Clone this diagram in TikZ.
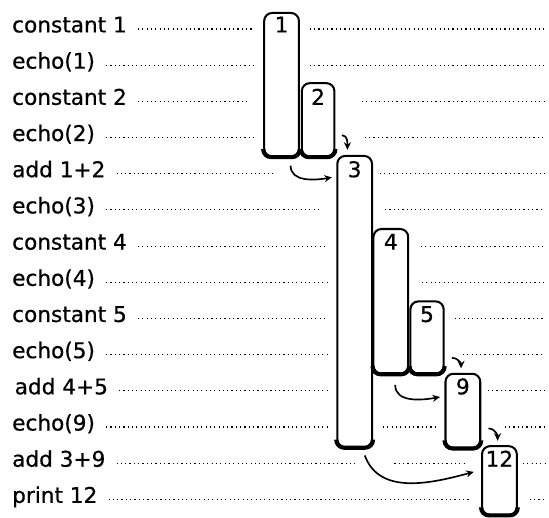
\documentclass[tikz,border=0pt]{standalone}
\usepackage{fontspec}
\setmainfont{DejaVu Sans}[FakeBold=0.6]
\usepackage{tikz}
\usetikzlibrary{arrows.meta,positioning}

\newcommand{\barbase}[1]{\draw[base] ([yshift=2.2mm]#1.south west) |- ([yshift=0.4pt]#1.south) -| ([yshift=2.2mm]#1.south east);}

\begin{document}
\begin{tikzpicture}[every node/.style={font=\fontsize{17}{20}\selectfont},
  lbl/.style={anchor=mid west,inner sep=0pt},
  dots/.style={line width=0.9pt,dash pattern=on 0.9pt off 2.5pt},
  bar/.style={draw,line width=1.6pt,rounded corners=0.22cm,minimum width=0.96cm,inner sep=0pt,anchor=north},
  base/.style={line width=3.2pt,rounded corners=0.22cm},
  hop/.style={-{Stealth[length=6pt,width=5.5pt]},line width=1.3pt}]
  \useasboundingbox (0,0.8) rectangle (15.17,-13.51);

  % the program, one row per step
  \node[lbl] (l0) at (0.33,0) {constant 1};
  \node[lbl] (l1) at (0.33,-1) {echo(1)};
  \node[lbl] (l2) at (0.33,-2) {constant 2};
  \node[lbl] (l3) at (0.33,-3) {echo(2)};
  \node[lbl] (l4) at (0.33,-4) {add 1+2};
  \node[lbl] (l5) at (0.33,-5) {echo(3)};
  \node[lbl] (l6) at (0.33,-6) {constant 4};
  \node[lbl] (l7) at (0.33,-7) {echo(4)};
  \node[lbl] (l8) at (0.33,-8) {constant 5};
  \node[lbl] (l9) at (0.33,-9) {echo(5)};
  \node[lbl] (l10) at (0.4,-10) {add 4+5};
  \node[lbl] (l11) at (0.33,-11) {echo(9)};
  \node[lbl] (l12) at (0.33,-12) {add 3+9};
  \node[lbl] (l13) at (0.33,-13) {print 12};

  \draw[dots] ([xshift=3mm]l0.mid east) -- (6.95,0) (8.56,0) -- (15.05,0);
  \draw[dots] ([xshift=3mm]l1.mid east) -- (7.1,-1) (8.56,-1) -- (15.05,-1);
  \draw[dots] ([xshift=3mm]l2.mid east) -- (6.9,-2) (10.0,-2) -- (15.05,-2);
  \draw[dots] ([xshift=3mm]l3.mid east) -- (7.0,-3) (10.08,-3) -- (15.05,-3);
  \draw[dots] ([xshift=3mm]l4.mid east) -- (7.6,-4) (10.5,-4) -- (15.05,-4);
  \draw[dots] ([xshift=3mm]l5.mid east) -- (8.9,-5) (10.64,-5) -- (15.05,-5);
  \draw[dots] ([xshift=3mm]l6.mid east) -- (9.05,-6) (11.63,-6) -- (15.05,-6);
  \draw[dots] ([xshift=3mm]l7.mid east) -- (9.05,-7) (11.66,-7) -- (15.05,-7);
  \draw[dots] ([xshift=3mm]l8.mid east) -- (9.05,-8) (12.57,-8) -- (15.05,-8);
  \draw[dots] ([xshift=3mm]l9.mid east) -- (9.03,-9) (12.79,-9) -- (15.05,-9);
  \draw[dots] ([xshift=3mm]l10.mid east) -- (9.03,-10) (13.48,-10) -- (15.05,-10);
  \draw[dots] ([xshift=3mm]l11.mid east) -- (9.05,-11) (10.58,-11) -- (12.07,-11) (13.95,-11) -- (15.05,-11);
  \draw[dots] ([xshift=3mm]l12.mid east) -- (9.8,-12) (10.9,-12) -- (12.93,-12) (14.45,-12) -- (15.05,-12);
  \draw[dots] ([xshift=3mm]l13.mid east) -- (12.98,-13) (14.64,-13) -- (15.05,-13);

  % the values on the stack
  \node[bar,minimum height=3.97cm] (b1) at (7.78,0.47) {};
  \node[bar,minimum height=2.03cm,minimum width=0.9cm] (b2) at (8.79,-1.47) {};
  \node[bar,minimum height=8.05cm] (b3) at (9.8,-3.48) {};
  \node[bar,minimum height=4cm] (b4) at (10.8,-5.5) {};
  \node[bar,minimum height=2cm,minimum width=0.92cm] (b5) at (11.8,-7.5) {};
  \node[bar,minimum height=2.05cm] (b9) at (12.79,-9.5) {};
  \node[bar,minimum height=1.9cm] (b12) at (13.8,-11.5) {};
  \barbase{b1} \barbase{b2} \barbase{b3} \barbase{b4}
  \barbase{b5} \barbase{b9} \barbase{b12}

  \node[anchor=mid] (n1) at (b1.north |- l0.mid) {1};
  \node[anchor=mid] (n2) at (b2.north |- l2.mid) {2};
  \node[anchor=mid] (n3) at (b3.north |- l4.mid) {3};
  \node[anchor=mid] (n4) at (b4.north |- l6.mid) {4};
  \node[anchor=mid] (n5) at (b5.north |- l8.mid) {5};
  \node[anchor=mid] (n9) at (b9.north |- l10.mid) {9};
  \node[anchor=mid] (n12) at (b12.north |- l12.mid) {12};

  % moves between values
  \draw[hop] ([shift={(0.18,0.62)}]b2.south east) to[out=0,in=90] ([shift={(-0.2,0.14)}]b3.north);
  \draw[hop] ([shift={(0.2,0.47)}]b5.south east) to[out=0,in=90] ([shift={(-0.05,0.12)}]b9.north);
  \draw[hop] ([shift={(0.2,0.57)}]b9.south east) to[out=0,in=90] ([shift={(-0.05,0.12)}]b12.north);
  \draw[hop] ([shift={(0.25,-0.22)}]b1.south) to[out=-90,in=190] ([shift={(-0.12,-0.62)}]b3.north west);
  \draw[hop] ([shift={(0.12,-0.28)}]b4.south) to[out=-90,in=190] ([shift={(-0.12,-0.67)}]b9.north west);
  \draw[hop] ([shift={(0.28,-0.2)}]b3.south) to[out=-70,in=195] ([shift={(-0.2,-0.74)}]b12.north west);
\end{tikzpicture}
\end{document}
